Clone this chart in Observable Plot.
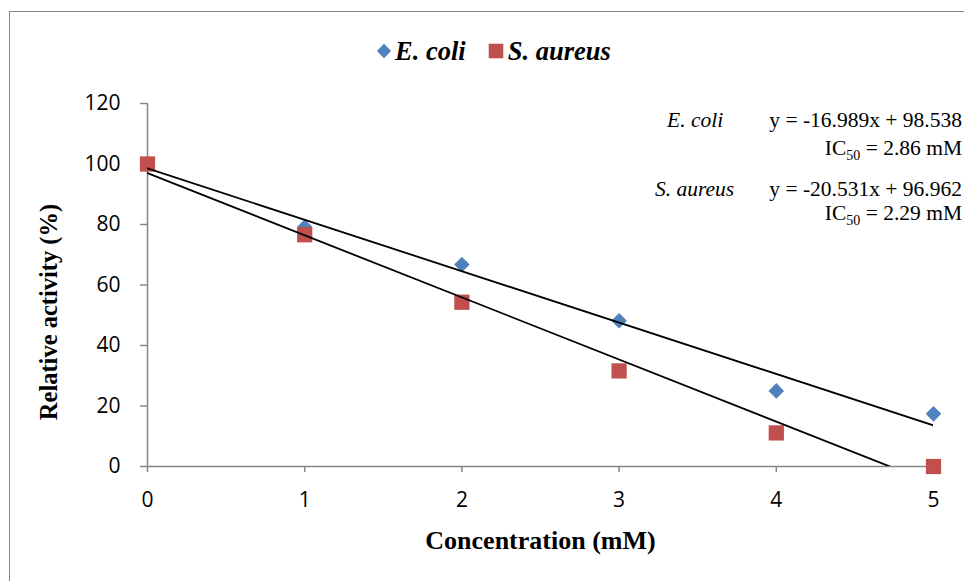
<!DOCTYPE html>
<html>
<head>
<meta charset="utf-8">
<script src="https://cdn.jsdelivr.net/npm/d3@7"></script>
<script src="https://cdn.jsdelivr.net/npm/@observablehq/plot@0.6"></script>
<style>
  body { margin: 0; background: #fff; }
  #wrap { position: relative; width: 964px; height: 581px; overflow: hidden; background: #fff; }
  #border { position: absolute; left: 9px; top: 11px; width: 1400px; height: 900px; border: 1px solid #868686; box-sizing: border-box; pointer-events: none; }
  #chart { position: absolute; left: 0; top: 0; }
  #legend { position: absolute; left: 375px; top: 37px; display: flex; align-items: center; font-family: "Liberation Serif", "Times New Roman", serif; font-weight: bold; font-style: italic; font-size: 26.5px; color: #000; line-height: 28px; white-space: nowrap; }
  #legend .item { display: flex; align-items: center; }
  #legend svg { display: block; }
  #ytitle { position: absolute; left: 49px; top: 312px; transform: translate(-50%, -50%) rotate(-90deg); font-family: "Liberation Serif", "Times New Roman", serif; font-weight: bold; font-size: 24.5px; line-height: 28px; white-space: nowrap; color: #000; }
  .ann { position: absolute; font-family: "Liberation Serif", "Times New Roman", serif; font-size: 21.5px; line-height: 22px; color: #000; white-space: nowrap; }
  .ann sub { font-size: 14px; vertical-align: -5px; line-height: 0; }
  .eq { right: 2px; text-align: right; }
</style>
</head>
<body>
<div id="wrap">
  <div id="chart"></div>
  <div id="border"></div>
  <div id="legend"></div>
  <div id="ytitle"></div>
  <div id="annotations"></div>
</div>
<script>
// ---- data ----
const concentrations = [0, 1, 2, 3, 4, 5];
const seriesNames = ["E. coli", "S. aureus"];
const ecoliActivity = [100, 79.2, 66.8, 48.2, 25.0, 17.4];
const saureusActivity = [100, 76.6, 54.3, 31.6, 11.1, 0];
const slopes = [-16.989, -20.531];
const intercepts = [98.538, 96.962];
const ic50Values = ["2.86", "2.29"];
const seriesColors = ["#4F81BD", "#C0504D"];
const seriesSymbols = ["diamond2", "square"];
const xTicks = [0, 1, 2, 3, 4, 5];
const yTicks = [0, 20, 40, 60, 80, 100, 120];
const xLabel = "Concentration (mM)";
const yLabel = "Relative activity (%)";

// ---- tables built from the arrays ----
const activities = [ecoliActivity, saureusActivity];
const points = seriesNames.flatMap((s, si) =>
  concentrations.map((c, i) => ({series: s, x: c, y: activities[si][i]})));
const xExtent = d3.extent(concentrations);
const trend = seriesNames.flatMap((s, si) =>
  xExtent.map(x => ({series: s, x, y: slopes[si] * x + intercepts[si]})));

const axisGray = "#868686";
const serif = "Liberation Serif, Times New Roman, serif";

const chart = Plot.plot({
  width: 964,
  height: 581,
  marginLeft: 147,
  marginRight: 31,
  marginTop: 103,
  marginBottom: 115,
  style: {fontFamily: "Open Sans, sans-serif", fontSize: "21px", color: "#000", background: "transparent", overflow: "visible"},
  x: {domain: [0, 5]},
  y: {domain: [0, 120]},
  marks: [
    Plot.axisY({ticks: yTicks, tickSize: 7, tickPadding: 20, stroke: axisGray, strokeWidth: 1.5, fill: "#000", label: null, tickFormat: d3.format("d")}),
    Plot.axisX({ticks: xTicks, tickSize: 6, tickPadding: 20, stroke: axisGray, strokeWidth: 1.5, fill: "#000", label: null, tickFormat: d3.format("d")}),
    Plot.ruleX([0], {stroke: axisGray, strokeWidth: 1.5}),
    Plot.ruleY([0], {stroke: axisGray, strokeWidth: 1.5}),
    Plot.dot(points.filter(d => d.series === seriesNames[0]), {x: "x", y: "y", symbol: () => seriesSymbols[0], fill: seriesColors[0], r: 7, stroke: "none"}),
    Plot.dot(points.filter(d => d.series === seriesNames[1]), {x: "x", y: "y", symbol: () => seriesSymbols[1], fill: seriesColors[1], r: 8.6, stroke: "none"}),
    Plot.line(trend, {x: "x", y: "y", z: "series", stroke: "#000", strokeWidth: 1.8, clip: true}),
    Plot.text([xLabel], {frameAnchor: "bottom", dy: 74, fontFamily: serif, fontWeight: "bold", fontSize: 26, fill: "#000", lineAnchor: "middle"})
  ]
});
document.getElementById("chart").appendChild(chart);

d3.select("#ytitle").text(yLabel);

// ---- legend ----
const legend = d3.select("#legend");
seriesNames.forEach((name, i) => {
  const item = legend.append("div").attr("class", "item").style("margin-left", i ? "21px" : "0px");
  const svg = item.append("svg").attr("width", 18).attr("height", 18);
  svg.append("path")
    .attr("transform", "translate(9,9)")
    .attr("d", d3.symbol(i === 0 ? d3.symbolDiamond2 : d3.symbolSquare2, i === 0 ? 130 : 270)())
    .attr("fill", seriesColors[i]);
  item.append("span").style("margin-left", i ? "3px" : "2px").text(name);
});

// ---- annotations ----
const ann = d3.select("#annotations");
const rowTops = [[109, 137], [178, 202]];
const nameLefts = [667, 655];
seriesNames.forEach((name, i) => {
  ann.append("div").attr("class", "ann").style("left", nameLefts[i] + "px").style("top", rowTops[i][0] + "px")
    .style("font-style", "italic").text(name);
  const sign = intercepts[i] >= 0 ? "+" : "-";
  ann.append("div").attr("class", "ann eq").style("top", rowTops[i][0] + "px")
    .text(`y = ${slopes[i]}x ${sign} ${Math.abs(intercepts[i])}`);
  ann.append("div").attr("class", "ann eq").style("top", rowTops[i][1] + "px")
    .html(`IC<sub>50</sub> = ${ic50Values[i]} mM`);
});
</script>
</body>
</html>
